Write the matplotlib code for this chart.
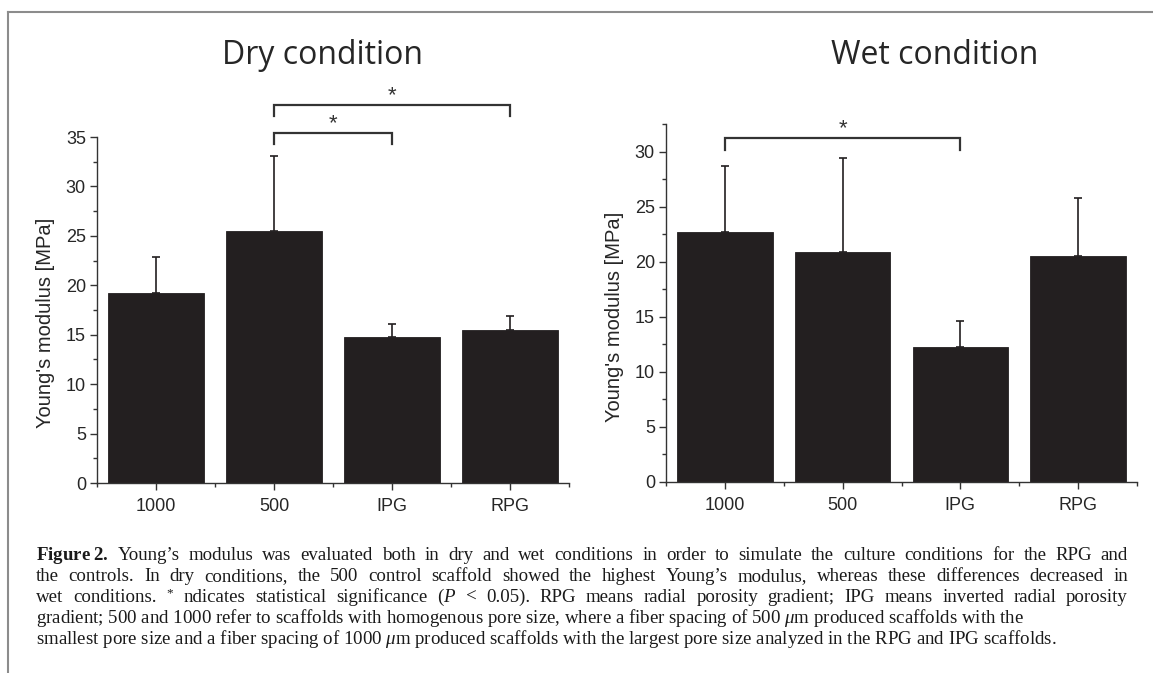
import matplotlib
matplotlib.use("Agg")
import matplotlib.pyplot as plt
from matplotlib.lines import Line2D
import matplotlib.ticker as ticker

# ── data ────────────────────────────────────────────────────────────────────
categories = ["1000", "500", "IPG", "RPG"]
dry_modulus = [19.2, 25.5, 14.8, 15.5]
dry_sd = [3.7, 7.6, 1.3, 1.4]
wet_modulus = [22.7, 20.9, 12.3, 20.5]
wet_sd = [6.0, 8.5, 2.3, 5.3]
# significance brackets: (group a, group b, bracket height)
dry_sig = [(1, 2, 35.4), (1, 3, 38.2)]
wet_sig = [(0, 2, 31.2)]

caption_lines = [
    r"$\mathbf{Figure\;2.}$ Young’s modulus was evaluated both in dry and wet conditions in order to simulate the culture conditions for the RPG and",
    "the controls. In dry conditions, the 500 control scaffold showed the highest Young’s modulus, whereas these differences decreased in",
    r"wet conditions. $^{*}$ ndicates statistical significance ($P$ < 0.05). RPG means radial porosity gradient; IPG means inverted radial porosity",
    r"gradient; 500 and 1000 refer to scaffolds with homogenous pore size, where a fiber spacing of 500 $\mu$m produced scaffolds with the",
    r"smallest pore size and a fiber spacing of 1000 $\mu$m produced scaffolds with the largest pore size analyzed in the RPG and IPG scaffolds.",
]
# right edge (px) each caption line is justified to; None = ragged
line_ends = [1128, 1128, 1128, None, None]

plt.rcParams.update({
    "font.family": ["Liberation Sans", "DejaVu Sans"],
    "mathtext.fontset": "custom",
    "mathtext.rm": "Liberation Serif",
    "mathtext.it": "Liberation Serif:italic",
    "mathtext.bf": "Liberation Serif:bold",
})

W, H = 1153, 673
fig = plt.figure(figsize=(W / 100, H / 100), dpi=100)
BAR = "#231f20"
AX = "#333333"


def px_axes(left, top, right, bottom):
    return fig.add_axes([left / W, 1 - bottom / H, (right - left) / W, (bottom - top) / H])


def draw_panel(ax, values, sd, sig, ymax, label_xy):
    x = list(range(len(categories)))
    ax.bar(x, values, width=0.81, color=BAR, edgecolor=BAR, linewidth=0.6,
           yerr=[[0] * len(sd), sd],
           error_kw=dict(ecolor=BAR, elinewidth=1.2, capsize=2.6, capthick=1.2))
    ax.set_xlim(-0.5, len(categories) - 0.5)
    ax.set_ylim(0, ymax)
    ax.set_xticks(x)
    ax.set_xticklabels(categories)
    ax.xaxis.set_minor_locator(ticker.FixedLocator([i - 0.5 for i in range(len(categories) + 1)]))
    ax.yaxis.set_major_locator(ticker.MultipleLocator(5))
    ax.yaxis.set_minor_locator(ticker.MultipleLocator(2.5))
    for s in ("top", "right"):
        ax.spines[s].set_visible(False)
    for s in ("left", "bottom"):
        ax.spines[s].set_color(AX)
        ax.spines[s].set_linewidth(1.0)
    ax.tick_params(which="major", direction="out", length=5, width=1.0, color=AX,
                   labelsize=13, labelcolor="#262626")
    ax.tick_params(which="minor", direction="out", length=3, width=1.0, color=AX)
    ax.tick_params(axis="x", which="major", pad=6)
    ax.tick_params(axis="y", which="major", pad=3)
    ax.set_ylabel("Young's modulus [MPa]", fontsize=14.5, color="#262626")
    ax.yaxis.set_label_coords(*label_xy)

    # significance brackets
    drop = 1.1 * ymax / 35
    for a, b, h in sig:
        ax.plot([a, a, b, b], [h - drop, h, h, h - drop], color=AX, lw=1.6,
                clip_on=False, solid_joinstyle="miter")
        ax.annotate("*", ((a + b) / 2, h), xytext=(0, 4), textcoords="offset pixels",
                    ha="center", va="baseline", fontsize=16, color="#333333",
                    annotation_clip=False)


ax1 = px_axes(97, 137, 569, 483)
draw_panel(ax1, dry_modulus, dry_sd, dry_sig, 35, (-0.089, 0.462))
ax2 = px_axes(666, 124, 1137, 482)
draw_panel(ax2, wet_modulus, wet_sd, wet_sig, 32.5, (-0.089, 0.46))

fig.text(322 / W, 1 - 55 / H, "Dry condition", family="Open Sans", fontsize=23,
         ha="center", va="center", color="#262626")
fig.text(935 / W, 1 - 55 / H, "Wet condition", family="Open Sans", fontsize=23,
         ha="center", va="center", color="#262626")

# page frame lines
fig.add_artist(Line2D([8 / W, 1], [1 - 12 / H] * 2, color="#8c8c8c", lw=1.5,
                      transform=fig.transFigure))
fig.add_artist(Line2D([8 / W] * 2, [1 - 12 / H, 0], color="#8c8c8c", lw=1.5,
                      transform=fig.transFigure))

# caption, justified like the journal layout
renderer = fig.canvas.get_renderer()
x_left = 36
for i, line in enumerate(caption_lines):
    y = 1 - (560 + i * 21) / H
    kw = dict(family="Liberation Serif", fontsize=13.6, va="baseline", ha="left", color="#1a1a1a")
    if line_ends[i] is None:
        fig.text(x_left / W, y, line, **kw)
        continue
    words = line.split(" ")
    texts = [fig.text(0, y, w, **kw) for w in words]
    widths = [t.get_window_extent(renderer).width for t in texts]
    gap = (line_ends[i] - x_left - sum(widths)) / (len(words) - 1)
    pos = x_left
    for t, w in zip(texts, widths):
        t.set_x(pos / W)
        pos += w + gap

fig.savefig("out.png", dpi=100)
